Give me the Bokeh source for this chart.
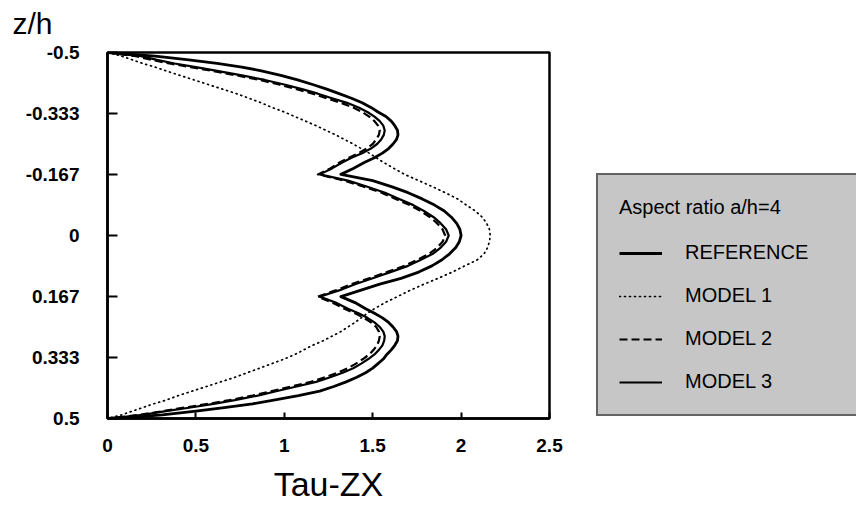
from bokeh.plotting import figure
from bokeh.models import Range1d, FixedTicker, Legend, LegendItem, Label
from bokeh.layouts import row, column
from bokeh.embed import file_html
from bokeh.resources import INLINE

# ---- data ----
z = [-0.5, -0.495, -0.49, -0.48, -0.47, -0.46, -0.45, -0.4375, -0.425, -0.4125,
     -0.4, -0.3875, -0.375, -0.3625, -0.35, -0.3375, -0.325, -0.3125, -0.3, -0.2875,
     -0.275, -0.2625, -0.25, -0.2375, -0.225, -0.2125, -0.2, -0.1833, -0.167, -0.15,
     -0.133, -0.117, -0.1, -0.083, -0.067, -0.05, -0.033, -0.017, 0.0,
     0.017, 0.033, 0.05, 0.067, 0.083, 0.1, 0.117, 0.133, 0.15, 0.167,
     0.1833, 0.2, 0.2125, 0.225, 0.2375, 0.25, 0.2625, 0.275, 0.2875, 0.3,
     0.3125, 0.325, 0.3375, 0.35, 0.3625, 0.375, 0.3875, 0.4, 0.4125, 0.425,
     0.4375, 0.45, 0.46, 0.47, 0.48, 0.49, 0.495, 0.5]

reference = [0.0, 0.14, 0.27, 0.46, 0.62, 0.76, 0.87, 0.98, 1.075, 1.16,
             1.24, 1.31, 1.38, 1.44, 1.49, 1.53, 1.575, 1.605, 1.625, 1.64,
             1.643, 1.635, 1.615, 1.59, 1.555, 1.51, 1.455, 1.39, 1.32, 1.50,
             1.61, 1.70, 1.78, 1.85, 1.905, 1.945, 1.975, 1.993, 2.0,
             1.99, 1.97, 1.935, 1.89, 1.835, 1.76, 1.66, 1.54, 1.43, 1.32,
             1.40, 1.46, 1.51, 1.555, 1.59, 1.615, 1.635, 1.643, 1.64, 1.625,
             1.605, 1.58, 1.56, 1.53, 1.50, 1.46, 1.41, 1.35, 1.28, 1.20,
             1.08, 0.94, 0.82, 0.66, 0.50, 0.31, 0.18, 0.0]

model1 = [0.0, 0.04, 0.08, 0.14, 0.20, 0.27, 0.33, 0.41, 0.49, 0.57,
          0.65, 0.73, 0.80, 0.87, 0.93, 1.00, 1.06, 1.12, 1.18, 1.235,
          1.29, 1.34, 1.39, 1.435, 1.48, 1.52, 1.56, 1.62, 1.68, 1.76,
          1.84, 1.91, 1.98, 2.03, 2.08, 2.12, 2.145, 2.16, 2.165,
          2.16, 2.15, 2.13, 2.09, 2.02, 1.95, 1.87, 1.79, 1.71, 1.64,
          1.57, 1.51, 1.47, 1.435, 1.40, 1.36, 1.32, 1.27, 1.22, 1.16,
          1.11, 1.06, 1.00, 0.93, 0.86, 0.79, 0.72, 0.64, 0.56, 0.48,
          0.40, 0.33, 0.26, 0.20, 0.14, 0.08, 0.04, 0.0]

model2 = [0.0, 0.08, 0.16, 0.25, 0.35, 0.47, 0.59, 0.73, 0.86, 0.97,
          1.07, 1.16, 1.24, 1.32, 1.39, 1.44, 1.48, 1.51, 1.53, 1.54,
          1.535, 1.52, 1.50, 1.465, 1.42, 1.365, 1.315, 1.26, 1.19, 1.34,
          1.45, 1.55, 1.63, 1.71, 1.77, 1.825, 1.865, 1.895, 1.91,
          1.895, 1.865, 1.82, 1.75, 1.68, 1.58, 1.48, 1.38, 1.29, 1.19,
          1.27, 1.34, 1.40, 1.45, 1.49, 1.52, 1.535, 1.54, 1.535, 1.525,
          1.505, 1.48, 1.445, 1.405, 1.36, 1.30, 1.23, 1.15, 1.04, 0.93,
          0.82, 0.69, 0.57, 0.44, 0.31, 0.18, 0.10, 0.0]

model3 = [0.0, 0.10, 0.19, 0.28, 0.38, 0.50, 0.62, 0.76, 0.89, 1.00,
          1.10, 1.19, 1.27, 1.355, 1.42, 1.47, 1.51, 1.54, 1.56, 1.568,
          1.563, 1.548, 1.525, 1.49, 1.44, 1.38, 1.33, 1.27, 1.20, 1.36,
          1.47, 1.57, 1.65, 1.73, 1.79, 1.845, 1.885, 1.915, 1.93,
          1.915, 1.885, 1.84, 1.77, 1.70, 1.60, 1.50, 1.40, 1.31, 1.20,
          1.29, 1.36, 1.42, 1.47, 1.51, 1.54, 1.56, 1.568, 1.565, 1.555,
          1.535, 1.51, 1.475, 1.435, 1.39, 1.33, 1.26, 1.18, 1.07, 0.96,
          0.85, 0.72, 0.60, 0.47, 0.33, 0.20, 0.11, 0.0]

series = [reference, model1, model2, model3]
series_names = ["REFERENCE", "MODEL 1", "MODEL 2", "MODEL 3"]
legend_title = "Aspect ratio a/h=4"
y_title = "z/h"
x_title = "Tau-ZX"

x_ticks = [0, 0.5, 1, 1.5, 2, 2.5]
x_tick_labels = ["0", "0.5", "1", "1.5", "2", "2.5"]
y_ticks = [-0.5, -0.333, -0.167, 0, 0.167, 0.333, 0.5]
y_tick_labels = ["-0.5", "-0.333", "-0.167", "0", "0.167", "0.333", "0.5"]

FONT = "Liberation Sans"
styles = [dict(line_width=2.8),
          dict(line_width=1.7, line_dash="1 4", line_cap="round"),
          dict(line_width=2.2, line_dash="8 4"),
          dict(line_width=2.2)]


def bare(fig):
    fig.axis.visible = False
    fig.grid.visible = False
    fig.outline_line_color = None
    fig.background_fill_color = "white"
    fig.border_fill_color = "white"


# ---- strip on top holding the y title ----
top = figure(width=856, height=40, output_backend="svg", toolbar_location=None,
             min_border=0, x_range=Range1d(0, 1), y_range=Range1d(0, 1))
bare(top)
top.add_layout(Label(x=12, y=17, x_units="screen", y_units="screen", text=y_title,
                     text_font=FONT, text_font_size="30px", text_color="black",
                     text_baseline="alphabetic", text_align="left"))

# ---- main chart ----
p = figure(width=566, height=468, output_backend="svg", toolbar_location=None,
           x_range=Range1d(0, 2.5), y_range=Range1d(0.5, -0.5),
           min_border_left=107, min_border_right=17, min_border_top=12,
           min_border_bottom=90)
p.background_fill_color = "white"
p.border_fill_color = "white"
p.outline_line_color = "black"
p.outline_line_width = 2.5
p.xgrid.visible = False
p.ygrid.visible = False

p.xaxis.ticker = FixedTicker(ticks=x_ticks)
p.yaxis.ticker = FixedTicker(ticks=y_ticks)
p.xaxis.major_label_overrides = dict(zip(x_ticks, x_tick_labels))
p.yaxis.major_label_overrides = dict(zip(y_ticks, y_tick_labels))
for ax in (p.xaxis[0], p.yaxis[0]):
    ax.axis_line_color = "black"
    ax.axis_line_width = 2.5
    ax.major_tick_line_color = "black"
    ax.major_tick_line_width = 2
    ax.major_tick_out = 0
    ax.minor_tick_line_color = None
    ax.major_label_text_font = FONT
    ax.major_label_text_font_style = "bold"
    ax.major_label_text_font_size = "19px"
    ax.major_label_text_color = "black"
p.xaxis.major_tick_in = 6
p.yaxis.major_tick_in = 10
p.xaxis.major_label_standoff = 20
p.yaxis.major_label_standoff = 28

p.xaxis.axis_label = x_title
p.xaxis.axis_label_text_font = FONT
p.xaxis.axis_label_text_font_style = "normal"
p.xaxis.axis_label_text_font_size = "34px"
p.xaxis.axis_label_text_color = "black"
p.xaxis.axis_label_standoff = 10

for vals, st in zip(series, styles):
    p.line(vals, z, line_color="black", line_join="round", **st)

# ---- legend panel on the right ----
lg = figure(width=290, height=468, output_backend="svg", toolbar_location=None,
            min_border=0, x_range=Range1d(10, 11), y_range=Range1d(0.5, -0.5))
bare(lg)
lg_renderers = [lg.line(vals, z, line_color="black", **st)
                for vals, st in zip(series, styles)]

legend = Legend(items=[LegendItem(label=n, renderers=[r]) for n, r in
                       zip(series_names, lg_renderers)],
                location=(30, 2))
legend.title = legend_title
legend.title_text_font = FONT
legend.title_text_font_size = "20px"
legend.title_text_font_style = "normal"
legend.title_text_color = "black"
legend.title_standoff = 22
legend.label_text_font = FONT
legend.label_text_font_size = "20px"
legend.label_text_color = "black"
legend.label_height = 22
legend.label_width = 165
legend.glyph_width = 43
legend.glyph_height = 22
legend.label_standoff = 23
legend.spacing = 20
legend.padding = 21
legend.margin = 0
legend.background_fill_color = "#c6c6c6"
legend.background_fill_alpha = 1.0
legend.border_line_color = "black"
legend.border_line_width = 2
lg.add_layout(legend, "center")

layout = column(top, row(p, lg, spacing=0), spacing=0)

open("out.html", "w").write(file_html(layout, INLINE))
